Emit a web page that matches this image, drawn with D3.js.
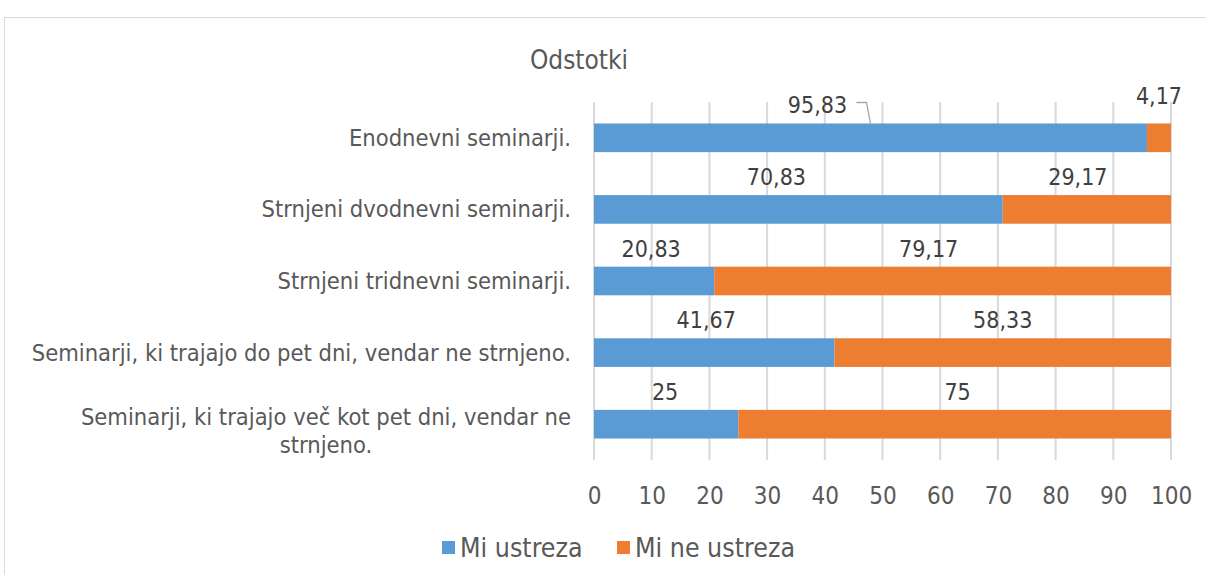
<!DOCTYPE html>
<html>
<head>
<meta charset="utf-8">
<script src="https://cdn.jsdelivr.net/npm/d3@7"></script>
<style>
  body { margin: 0; background: #fff; }
  text { font-family: "DejaVu Sans Condensed", "DejaVu Sans", sans-serif; font-stretch: condensed; }
</style>
</head>
<body>
<script>
// categories, top to bottom
var categories = [
    "Enodnevni seminarji.",
    "Strnjeni dvodnevni seminarji.",
    "Strnjeni tridnevni seminarji.",
    "Seminarji, ki trajajo do pet dni, vendar ne strnjeno.",
    "Seminarji, ki trajajo več kot pet dni, vendar ne strnjeno."
];
var miUstreza   = [95.83, 70.83, 20.83, 41.67, 25];
var miNeUstreza = [4.17, 29.17, 79.17, 58.33, 75];
var valueLabels = [
    ["95,83", "4,17"], ["70,83", "29,17"], ["20,83", "79,17"], ["41,67", "58,33"], ["25", "75"]
];
var xTicks = [0, 10, 20, 30, 40, 50, 60, 70, 80, 90, 100];
var seriesNames = ["Mi ustreza", "Mi ne ustreza"];
var colors = ["#5b9bd5", "#ed7d31"];

// label nudges (px), the reference has them moved a bit by hand
var labelDx = [[-53, 0], [-22, -9], [-3, -14], [-8, 0], [-1, 3]];
var labelDy = [[0, -9], [0, 0], [0, 0], [0, 0], [0, 0]];

var width = 1206, height = 575;
var plotLeft = 594, plotRight = 1171, plotTop = 102, plotBottom = 460;
var catSize = 23.5;

var svg = d3.select("body").append("svg")
    .attr("width", width)
    .attr("height", height);

// chart frame
svg.append("rect")
    .attr("x", 4.5).attr("y", 17.5)
    .attr("width", 1240).attr("height", 600)
    .attr("fill", "#fff")
    .attr("stroke", "#d9d9d9");

var x = d3.scaleLinear().domain([0, 100]).range([plotLeft, plotRight]);
var y = d3.scaleBand().domain(d3.range(categories.length))
    .range([plotTop, plotBottom])
    .paddingInner(0.6)
    .paddingOuter(0.3);

// grid
svg.append("g").selectAll("line")
    .data(xTicks)
    .enter().append("line")
    .attr("x1", function(d){ return x(d); })
    .attr("x2", function(d){ return x(d); })
    .attr("y1", plotTop).attr("y2", plotBottom)
    .attr("stroke", "#d9d9d9")
    .attr("stroke-width", 2);

// axis tick labels
var xAxis = d3.axisBottom(x).tickValues(xTicks).tickSize(0).tickPadding(0);
var gx = svg.append("g").attr("transform", "translate(0,504)").call(xAxis);
gx.select(".domain").remove();
gx.selectAll("text")
    .attr("dy", 0)
    .attr("fill", "#595959")
    .style("font-size", "24px");

var rows = categories.map(function(c, i){
    return { i: i, vals: [miUstreza[i], miNeUstreza[i]] };
});

// bars
var barH = y.bandwidth();
rows.forEach(function(r){
    var start = 0;
    r.vals.forEach(function(v, s){
        svg.append("rect")
            .attr("x", x(start))
            .attr("y", y(r.i))
            .attr("width", x(start + v) - x(start))
            .attr("height", barH)
            .attr("fill", colors[s]);

        var cx = x(start + v / 2) + labelDx[r.i][s];
        svg.append("text")
            .attr("x", cx)
            .attr("y", y(r.i) - 10 + labelDy[r.i][s])
            .attr("text-anchor", "middle")
            .attr("fill", "#404040")
            .style("font-size", "23px")
            .text(valueLabels[r.i][s]);
        start += v;
    });
});

// leader line for the first label
var y0 = y(0);
svg.append("path")
    .attr("d", "M" + (x(95.83 / 2) - 14) + "," + (y0 - 21) + "h10l4," + 21)
    .attr("fill", "none")
    .attr("stroke", "#a6a6a6")
    .attr("stroke-width", 1.3);

// category labels
rows.forEach(function(r){
    var yc = y(r.i) + barH / 2;
    var name = categories[r.i];
    var lines = [name];
    if (r.i == 4) {
        lines = ["Seminarji, ki trajajo več kot pet dni, vendar ne", "strnjeno."];
    }
    var t = svg.append("text")
        .attr("fill", "#595959")
        .style("font-size", catSize + "px");
    if (lines.length == 1) {
        t.attr("x", 571).attr("y", yc + 8).attr("text-anchor", "end").text(name);
    } else {
        var tmp = svg.append("text").style("font-size", catSize + "px").text(lines[0]);
        var w = tmp.node().getComputedTextLength();
        tmp.remove();
        t.attr("text-anchor", "middle");
        lines.forEach(function(l, k){
            t.append("tspan")
                .attr("x", 571 - w / 2)
                .attr("y", yc + 1 + k * 28)
                .text(l);
        });
    }
});

// title
svg.append("text")
    .attr("x", 579).attr("y", 69)
    .attr("text-anchor", "middle")
    .attr("fill", "#595959")
    .style("font-size", "26px")
    .text("Odstotki");

// legend
var legX = [442, 617];
seriesNames.forEach(function(n, s){
    svg.append("rect")
        .attr("x", legX[s]).attr("y", 541)
        .attr("width", 13).attr("height", 13)
        .attr("fill", colors[s]);
    svg.append("text")
        .attr("x", legX[s] + 18).attr("y", 557)
        .attr("fill", "#595959")
        .style("font-size", "26.5px")
        .text(n);
});
</script>
</body>
</html>
